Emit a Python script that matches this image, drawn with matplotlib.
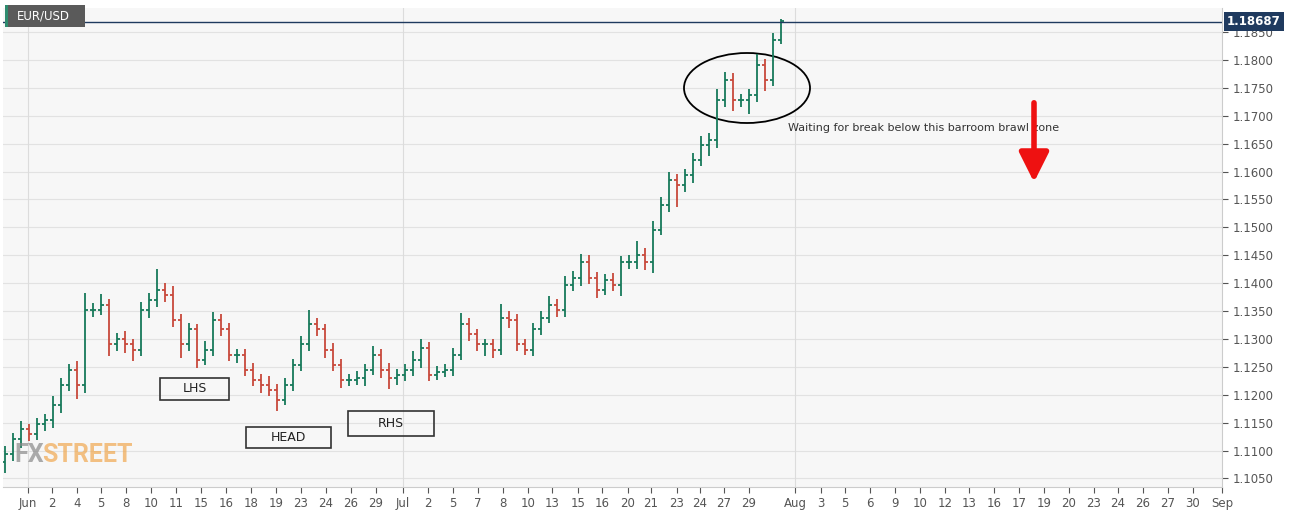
import numpy as np
import matplotlib.pyplot as plt
from matplotlib.patches import Ellipse, Rectangle

# EUR/USD closes (about 2.4 four-hour bars per point)
closes = [1.1093, 1.1120, 1.1138, 1.1129, 1.1147, 1.1155, 1.1182, 1.1218, 1.1245, 1.1218,
          1.1352, 1.1352, 1.1361, 1.1290, 1.1299, 1.1290, 1.1281, 1.1352, 1.1370, 1.1388,
          1.1379, 1.1334, 1.1290, 1.1317, 1.1263, 1.1281, 1.1334, 1.1317, 1.1272, 1.1272,
          1.1245, 1.1227, 1.1218, 1.1209, 1.1191, 1.1218, 1.1254, 1.1290, 1.1326, 1.1317,
          1.1281, 1.1254, 1.1227, 1.1227, 1.1230, 1.1245, 1.1272, 1.1245, 1.1230, 1.1236,
          1.1245, 1.1263, 1.1284, 1.1236, 1.1241, 1.1245, 1.1272, 1.1326, 1.1308, 1.1290,
          1.1290, 1.1281, 1.1338, 1.1334, 1.1290, 1.1281, 1.1317, 1.1338, 1.1361, 1.1352,
          1.1397, 1.1410, 1.1438, 1.1410, 1.1388, 1.1406, 1.1397, 1.1438, 1.1438, 1.1451,
          1.1438, 1.1496, 1.1540, 1.1585, 1.1576, 1.1594, 1.1621, 1.1648, 1.1657, 1.1728,
          1.1764, 1.1728, 1.1728, 1.1737, 1.1791, 1.1764, 1.1836, 1.1869]
first_open = 1.1080
# wick sizes in pips above max(open, close) and below min(open, close)
wick_up = [15, 12, 15, 10, 12, 10, 15, 12, 10, 15,
           30, 12, 20, 10, 12, 15, 10, 15, 12, 37,
           12, 15, 10, 12, 10, 15, 15, 10, 12, 10,
           10, 12, 10, 15, 10, 12, 10, 15, 25, 12,
           10, 12, 10, 10, 12, 10, 15, 10, 12, 10,
           10, 15, 15, 10, 10, 10, 12, 20, 12, 10,
           10, 10, 25, 12, 10, 10, 12, 12, 15, 10,
           15, 12, 15, 12, 10, 10, 12, 10, 12, 25,
           12, 15, 15, 15, 10, 10, 12, 15, 12, 20,
           15, 12, 10, 10, 20, 10, 12, 5]
wick_dn = [20, 12, 15, 12, 10, 12, 15, 15, 12, 25,
           15, 12, 10, 20, 12, 15, 20, 12, 15, 12,
           12, 12, 25, 12, 15, 10, 12, 12, 12, 15,
           12, 12, 15, 12, 20, 10, 12, 12, 12, 12,
           15, 12, 15, 12, 10, 15, 10, 15, 20, 12,
           12, 12, 15, 12, 10, 10, 12, 10, 12, 12,
           20, 15, 10, 15, 12, 10, 12, 10, 10, 12,
           12, 12, 15, 12, 15, 10, 12, 20, 12, 12,
           15, 20, 10, 12, 40, 12, 15, 12, 20, 15,
           12, 20, 12, 25, 12, 20, 10, 8]
last_price = 1.18687

tick_px = [28, 52, 77, 101, 126, 151, 176, 201, 226, 251, 276, 301, 326, 351, 376,
           403, 428, 453, 478, 503, 528, 552, 578, 602, 628, 651, 677, 700, 724, 749,
           795, 821, 845, 870, 895, 920, 945, 969, 994, 1019, 1044, 1069, 1094, 1118,
           1143, 1168, 1193, 1222]
tick_labels = ['Jun', '2', '4', '5', '8', '10', '11', '15', '16', '18', '19', '23', '24',
               '26', '29', 'Jul', '2', '5', '7', '8', '10', '13', '15', '16', '20', '21',
               '23', '24', '27', '29', 'Aug', '3', '5', '6', '9', '10', '12', '13', '16',
               '17', '19', '20', '23', '24', '26', '27', '30', 'Sep']

W, H = 1309, 513
fig = plt.figure(figsize=(W / 100, H / 100), dpi=100)
L, R, T, B = 3, 1222, 8, 487
ax = fig.add_axes([L / W, 1 - B / H, (R - L) / W, (B - T) / H])
ax.set_facecolor('#f7f7f7')

# pixel -> data helpers (bar i sits at px 5 + 8 i)
def px_x(px):
    return (px - 5) / 8.0

def px_y(py):
    return 1.1850 - (py - 32) / 27.9 * 0.005

ax.set_xlim(px_x(L), px_x(R))
ax.set_ylim(px_y(B), px_y(T))

green, red = '#17795a', '#c8493b'
opens = [first_open] + closes[:-1]
for i, (o, c) in enumerate(zip(opens, closes)):
    hi = max(o, c) + wick_up[i] / 10000
    lo = min(o, c) - wick_dn[i] / 10000
    col = green if c >= o else red
    ax.vlines(i, lo, hi, color=col, lw=1.3)
    ax.hlines(o, i - 0.35, i, color=col, lw=1.3)
    ax.hlines(c, i, i + 0.35, color=col, lw=1.3)

# grid
yt = np.arange(1.1050, 1.18501, 0.005)
for v in yt:
    ax.axhline(v, color='#e2e2e2', lw=0.8, zorder=0)
for p in [28, 403, 795]:
    ax.axvline(px_x(p), color='#dcdcdc', lw=0.8, zorder=0)

ax.axhline(last_price, color='#1f3a5f', lw=1)

ax.yaxis.tick_right()
ax.set_yticks(yt)
ax.set_yticklabels([f'{v:.4f}' for v in yt])
ax.set_xticks([px_x(p) for p in tick_px])
ax.set_xticklabels(tick_labels)
ax.tick_params(colors='#555555', labelsize=8.5, length=4)
for s in ['top', 'left']:
    ax.spines[s].set_visible(False)
ax.spines['right'].set_color('#cccccc')
ax.spines['bottom'].set_color('#cccccc')

ax.text(1.004, last_price, '1.18687', transform=ax.get_yaxis_transform(), ha='left',
        va='center', color='white', fontsize=8.5, fontweight='bold',
        bbox=dict(boxstyle='square,pad=0.25', fc='#1f3a5f', ec='none'))

# header label
fig.patches.append(Rectangle((5 / W, 1 - 27 / H), 80 / W, 22 / H, transform=fig.transFigure,
                             fc='#5a5a5a', ec='none'))
fig.patches.append(Rectangle((5 / W, 1 - 27 / H), 3 / W, 22 / H, transform=fig.transFigure,
                             fc='#2e8b6e', ec='none'))
fig.text(17 / W, 1 - 16 / H, 'EUR/USD', color='white', fontsize=8.5, va='center')

# watermark
ax.text(px_x(14), px_y(455), 'FX', fontsize=18, fontweight='bold', color='#8a8a8a',
        alpha=0.7, va='center', family='Roboto')
ax.text(px_x(42), px_y(455), 'STREET', fontsize=18, fontweight='bold', color='#f0a850',
        alpha=0.7, va='center', family='Roboto')

# annotations
ax.add_patch(Ellipse((px_x(747), px_y(88)), 126 / 8, 70 * 0.005 / 27.9,
                     fill=False, ec='black', lw=1.3))
ax.text(px_x(788), px_y(128), 'Waiting for break below this barroom brawl zone',
        fontsize=8, color='#333333', va='center')
ax.annotate('', xy=(px_x(1034), px_y(185)), xytext=(px_x(1034), px_y(100)),
            arrowprops=dict(arrowstyle='-|>,head_width=0.9,head_length=1.8',
                            color='#ee1111', lw=4))
for (x0, y0, x1, y1, lab) in [(160, 378, 229, 400, 'LHS'), (246, 427, 331, 448, 'HEAD'),
                              (348, 411, 434, 436, 'RHS')]:
    ax.add_patch(Rectangle((px_x(x0), px_y(y1)), px_x(x1) - px_x(x0), px_y(y0) - px_y(y1),
                           fill=False, ec='#333333', lw=1.2))
    ax.text(px_x((x0 + x1) / 2), px_y((y0 + y1) / 2), lab, ha='center', va='center',
            fontsize=9, color='#222222')

fig.savefig('out.png', dpi=100, facecolor='white')
